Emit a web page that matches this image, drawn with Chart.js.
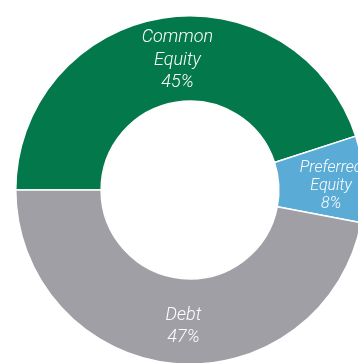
<!DOCTYPE html>
<html>
<head>
<meta charset="utf-8">
<script src="https://cdn.jsdelivr.net/npm/chart.js@4"></script>
<style>
    html, body { margin: 0; padding: 0; background: #fff; }
    #wrap { width: 358px; height: 363px; overflow: hidden; position: relative; }
    #capitalChart { position: absolute; left: 0; top: 0; }
</style>
</head>
<body>
<div id="wrap">
    <canvas id="capitalChart" width="380" height="380"></canvas>
</div>
<script>
// Datos de la estructura de capital
const categories = ['Common Equity', 'Preferred Equity', 'Debt'];
const labelLines = [['Common', 'Equity'], ['Preferred', 'Equity'], ['Debt']];
const shares = [45, 8, 47];
const sliceColors = ['#03784b', '#5aacd6', '#a09fa5'];

// Ajustes de posicion de las etiquetas (px) y tamano de letra
const labelNudge = [[8, 0], [3, 5], [6, 4]];
const labelRadius = [0.5, 0.58, 0.52];
const labelFont = [18, 16];

// Plugin para dibujar etiquetas dentro de cada segmento
const sliceLabels = {
    id: 'sliceLabels',
    afterDatasetsDraw(chart) {
        const ctx = chart.ctx;
        const meta = chart.getDatasetMeta(0);
        meta.data.forEach((arc, i) => {
            const p = arc.getProps(['x', 'y', 'startAngle', 'endAngle', 'innerRadius', 'outerRadius'], true);
            const mid = (p.startAngle + p.endAngle) / 2;
            const r = p.innerRadius + (p.outerRadius - p.innerRadius) * labelRadius[i];
            const cx = p.x + Math.cos(mid) * r + labelNudge[i][0];
            const cy = p.y + Math.sin(mid) * r + labelNudge[i][1];
            const lines = labelLines[i].concat([shares[i] + '%']);
            const size = shares[i] < 10 ? labelFont[1] : labelFont[0];
            const lh = size * (shares[i] < 10 ? 1.12 : 1.24);
            ctx.save();
            ctx.fillStyle = '#ffffff';
            ctx.font = 'italic 300 ' + size + 'px Roboto';
            ctx.textAlign = 'center';
            ctx.textBaseline = 'middle';
            lines.forEach((txt, k) => {
                ctx.fillText(txt, cx, cy + (k - (lines.length - 1) / 2) * lh);
            });
            ctx.restore();
        });
    }
};

const capitalChart = new Chart(document.getElementById('capitalChart'), {
    type: 'doughnut',
    data: {
        labels: categories,
        datasets: [{
            data: shares,
            backgroundColor: sliceColors,
            borderColor: '#ffffff',
            borderWidth: 1.5
        }]
    },
    options: {
        responsive: false,
        animation: false,
        rotation: -90,
        cutout: '51%',
        layout: { padding: 15 },
        plugins: {
            legend: { display: false },
            tooltip: { enabled: false }
        }
    },
    plugins: [sliceLabels]
});
</script>
</body>
</html>
